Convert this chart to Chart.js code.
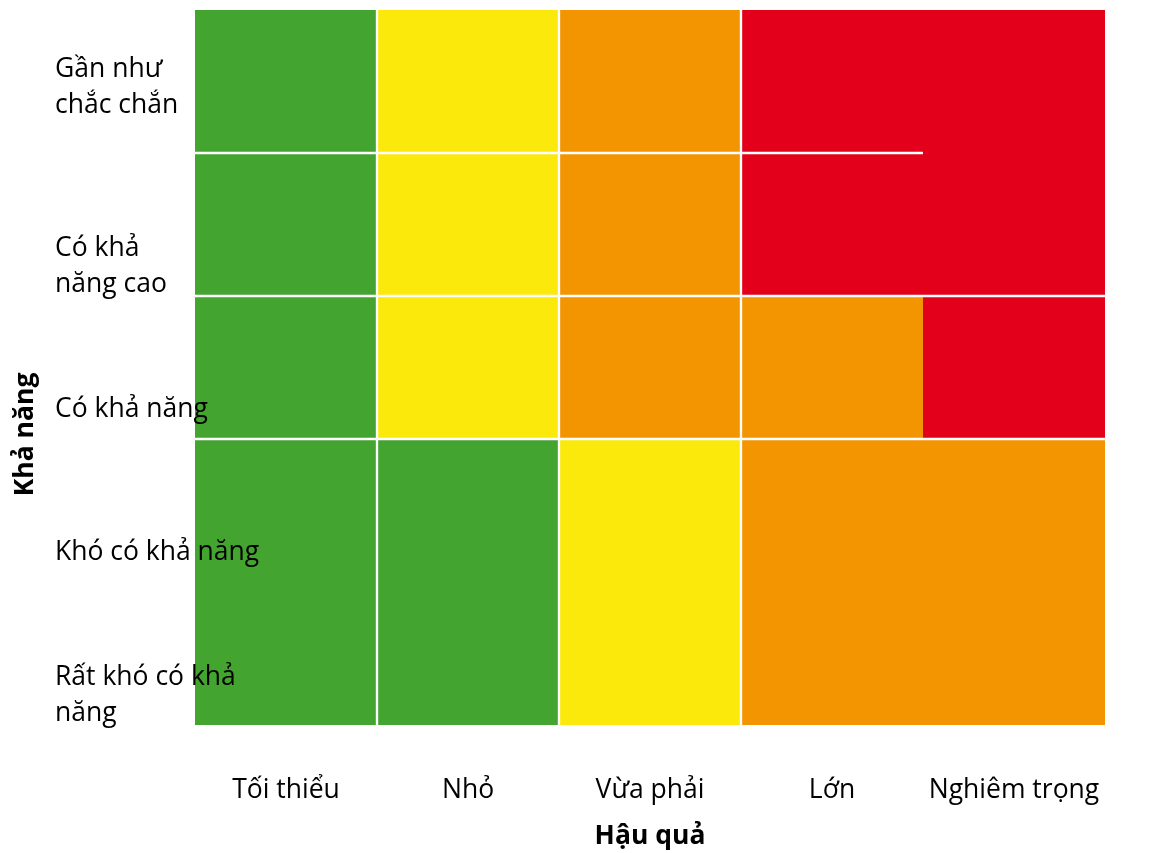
<!DOCTYPE html>
<html>
<head>
<meta charset="utf-8">
<script src="https://cdn.jsdelivr.net/npm/chart.js@4/dist/chart.umd.min.js"></script>
<style>
    html, body { margin: 0; padding: 0; background: #ffffff; }
    #wrap { width: 1158px; height: 853px; }
</style>
</head>
<body>
<div id="wrap"><canvas id="risk-matrix"></canvas></div>
<script>
// Consequence categories (columns) and likelihood categories (rows, top to bottom)
const consequenceLabels = ['Tối thiểu', 'Nhỏ', 'Vừa phải', 'Lớn', 'Nghiêm trọng'];
const likelihoodLabels = [
    ['Gần như', 'chắc chắn', '', ''],
    ['Có khả', 'năng cao'],
    'Có khả năng',
    'Khó có khả năng',
    ['Rất khó có khả', 'năng']
];

// Risk level of every cell: 0 = low, 1 = medium, 2 = high, 3 = extreme
const riskLevels = [
    [0, 1, 2, 3, 3],
    [0, 1, 2, 3, 3],
    [0, 1, 2, 2, 3],
    [0, 0, 1, 2, 2],
    [0, 0, 1, 2, 2]
];
const levelColors = ['#43a52f', '#fbe90c', '#f39500', '#e2001a'];

// Which cell boundaries show a white separator
// verticalSeparators[c][r]: between column c and c+1 on row r
const verticalSeparators = [
    [1, 1, 1, 1, 1],
    [1, 1, 1, 1, 1],
    [1, 1, 1, 1, 1],
    [0, 0, 0, 0, 0]
];
// horizontalSeparators[r][c]: between row r and r+1 on column c
const horizontalSeparators = [
    [1, 1, 1, 1, 0],
    [1, 1, 1, 1, 1],
    [1, 1, 1, 1, 1],
    [0, 0, 0, 0, 0]
];

document.addEventListener('DOMContentLoaded', function() {
    const canvas = document.getElementById('risk-matrix');
    const family = '"Open Sans", sans-serif';
    const font = { family: family, size: 26.5, lineHeight: 1.36 };
    const half = 1.5;

    // Vertical axis title, centred on the whole canvas height like the original
    const yTitlePlugin = {
        id: 'yTitle',
        afterDraw: function(chart) {
            const ctx = chart.ctx;
            ctx.save();
            ctx.translate(25, chart.height / 2 + 8);
            ctx.rotate(-Math.PI / 2);
            ctx.font = 'bold 26.5px ' + family;
            ctx.fillStyle = '#000000';
            ctx.textAlign = 'center';
            ctx.textBaseline = 'middle';
            ctx.fillText('Khả năng', 0, 0);
            ctx.restore();
        }
    };

    // One dataset per column, each bar spans one cell
    const datasets = consequenceLabels.map(function(label, c) {
        return {
            label: label,
            data: likelihoodLabels.map(function() { return [c, c + 1]; }),
            grouped: false,
            categoryPercentage: 1,
            barPercentage: 1,
            borderSkipped: false,
            borderColor: '#ffffff',
            backgroundColor: function(ctx) {
                return levelColors[riskLevels[ctx.dataIndex][ctx.datasetIndex]];
            },
            borderWidth: function(ctx) {
                const r = ctx.dataIndex;
                const col = ctx.datasetIndex;
                return {
                    left: col > 0 && verticalSeparators[col - 1][r] ? half : 0,
                    right: col < 4 && verticalSeparators[col][r] ? half : 0,
                    top: r > 0 && horizontalSeparators[r - 1][col] ? half : 0,
                    bottom: r < 4 && horizontalSeparators[r][col] ? half : 0
                };
            }
        };
    });

    new Chart(canvas, {
        type: 'bar',
        data: {
            labels: likelihoodLabels,
            datasets: datasets
        },
        plugins: [yTitlePlugin],
        options: {
            indexAxis: 'y',
            responsive: true,
            maintainAspectRatio: false,
            animation: false,
            layout: { padding: { top: 10, right: 53, bottom: 0, left: 0 } },
            plugins: {
                legend: { display: false },
                tooltip: { enabled: false }
            },
            scales: {
                x: {
                    type: 'linear',
                    min: 0,
                    max: 5,
                    grid: { display: false, drawTicks: false },
                    border: { display: false },
                    afterBuildTicks: function(scale) {
                        scale.ticks = consequenceLabels.map(function(l, i) { return { value: i + 0.5 }; });
                    },
                    afterFit: function(scale) { scale.height = 128; },
                    ticks: {
                        autoSkip: false,
                        maxRotation: 0,
                        padding: 47,
                        color: '#000000',
                        font: font,
                        callback: function(value, index) { return consequenceLabels[index]; }
                    },
                    title: {
                        display: true,
                        text: 'Hậu quả',
                        color: '#000000',
                        padding: { top: 0, bottom: 1 },
                        font: { family: family, size: 26.5, weight: 'bold' }
                    }
                },
                y: {
                    grid: { display: false, drawTicks: false },
                    border: { display: false },
                    afterFit: function(scale) { scale.width = 195; },
                    ticks: {
                        z: 1,
                        autoSkip: false,
                        mirror: true,
                        padding: -140,
                        labelOffset: 42,
                        color: '#000000',
                        font: font
                    }
                }
            }
        }
    });
});
</script>
</body>
</html>
